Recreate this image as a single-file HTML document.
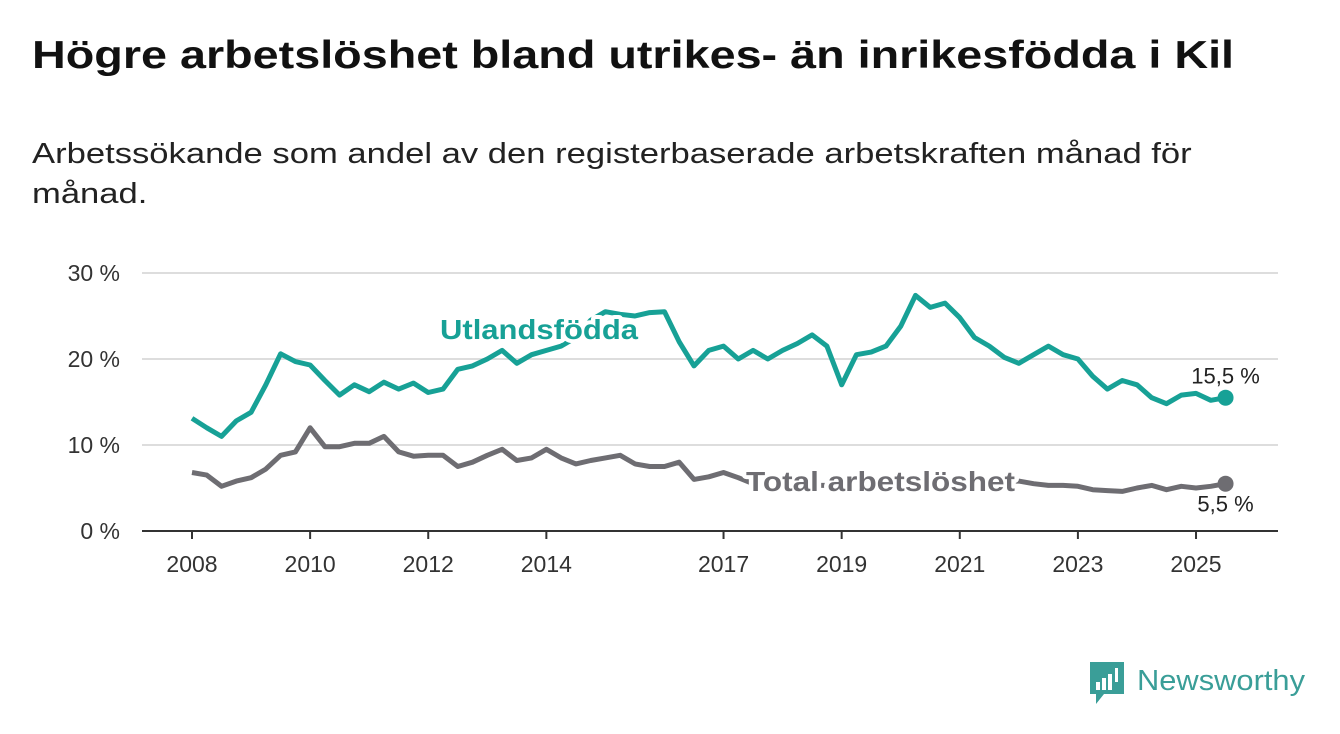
<!DOCTYPE html>
<html><head><meta charset="utf-8"><style>
body{margin:0;width:1340px;height:734px;background:#fff;font-family:"Liberation Sans",sans-serif;overflow:hidden}
#t{position:absolute;left:32px;top:34px;font-size:39px;font-weight:bold;color:#111;white-space:nowrap;transform-origin:0 0;transform:scaleX(1.198)}
#s{position:absolute;left:32px;top:134px;font-size:29px;color:#222;line-height:40px;white-space:nowrap;transform-origin:0 0;transform:scaleX(1.193)}
svg{position:absolute;left:0;top:0}
</style></head><body>
<div id="t">Högre arbetslöshet bland utrikes- än inrikesfödda i Kil</div>
<div id="s">Arbetssökande som andel av den registerbaserade arbetskraften månad för<br>månad.</div>
<svg id="c" width="1340" height="734"></svg>
<script>
const startYear=2008, step=0.25;
const foreign=[13.1,12.0,11.0,12.8, 13.8,17.0,20.6,19.7, 19.3,17.5,15.8,17.0, 16.2,17.3,16.5,17.2, 16.1,16.5,18.8,19.2, 20.0,21.0,19.5,20.5, 21.0,21.5,22.5,24.5, 25.5,25.2,25.0,25.4, 25.5,22.0,19.2,21.0, 21.5,20.0,21.0,20.0, 21.0,21.8,22.8,21.5, 17.0,20.5,20.8,21.5, 23.8,27.4,26.0,26.5, 24.8,22.5,21.5,20.2, 19.5,20.5,21.5,20.5, 20.0,18.0,16.5,17.5, 17.0,15.5,14.8,15.8, 16.0,15.2,15.5];
const total=[6.8,6.5,5.2,5.8, 6.2,7.2,8.8,9.2, 12.0,9.8,9.8,10.2, 10.2,11.0,9.2,8.7, 8.8,8.8,7.5,8.0, 8.8,9.5,8.2,8.5, 9.5,8.5,7.8,8.2, 8.5,8.8,7.8,7.5, 7.5,8.0,6.0,6.3, 6.8,6.2,5.5,5.5, 5.5,5.4,5.3,5.3, 5.4,5.5,5.5,5.6, 5.6,5.7,5.8,5.8, 5.8,5.9,5.9,5.8, 5.8,5.5,5.3,5.3, 5.2,4.8,4.7,4.6, 5.0,5.3,4.8,5.2, 5.0,5.2,5.5];
const yTicks=[0,10,20,30];
const yTickLabels=["0 %","10 %","20 %","30 %"];
const xTicks=[2008,2010,2012,2014,2017,2019,2021,2023,2025];
const NS="http://www.w3.org/2000/svg", svg=document.getElementById('c');
const X=y=>192+(y-2008)*59.06, Y=v=>531-v*8.6;
function mk(tag,a,txt){const e=document.createElementNS(NS,tag);for(const k in a)e.setAttribute(k,a[k]);if(txt!=null)e.textContent=txt;svg.appendChild(e);return e;}
yTicks.forEach((t,i)=>{
 const g=mk('line',{x1:142,x2:1278,y1:Y(t),y2:Y(t),stroke:t?'#ddd':'#333','stroke-width':2});
 
 
 const l=mk('text',{x:120,y:Y(t)+8,'text-anchor':'end','font-size':23,fill:'#333'},yTickLabels[i]);
 
 
});
xTicks.forEach(t=>{
 const m=mk('line',{x1:X(t),x2:X(t),y1:531,y2:539,stroke:'#333','stroke-width':2});
 
 
 const l=mk('text',{x:X(t),y:572,'text-anchor':'middle','font-size':23,fill:'#333'},String(t));
 
 
});
function line(arr,col,name){
 const d=arr.map((v,i)=>(i?'L':'M')+X(startYear+i*step).toFixed(1)+','+Y(v).toFixed(1)).join('');
 const p=mk('path',{d:d,fill:'none',stroke:col,'stroke-width':5,'stroke-linejoin':'round'});
 
 
 const n=arr.length-1;
 const c=mk('circle',{cx:X(startYear+n*step),cy:Y(arr[n]),r:8,fill:col});
 
 
 return [X(startYear+n*step),Y(arr[n])];
}
const ef=line(foreign,'#17a196','foreign-born');
const et=line(total,'#6e6d72','total');
const lab=(x,y,txt,col,name,len)=>{const e=mk('text',{x:x,y:y,'font-size':28,'font-weight':'bold',fill:col,stroke:'#fff','stroke-width':8,'paint-order':'stroke','stroke-linejoin':'round',textLength:len,lengthAdjust:'spacingAndGlyphs'},txt);
 
 };
lab(440,339,'Utlandsfödda','#17a196','foreign-born-label',198);
lab(746,491,'Total arbetslöshet','#6e6d72','total-label',269);
const v1=mk('text',{x:ef[0],y:ef[1]-14,'text-anchor':'middle','font-size':22,fill:'#222'},String(foreign[foreign.length-1]).replace('.',',')+' %');


const v2=mk('text',{x:et[0],y:et[1]+28,'text-anchor':'middle','font-size':22,fill:'#222'},String(total[total.length-1]).replace('.',',')+' %');


</script>
<svg width="1340" height="734">
<path d="M1090 662h34v32h-20l-8 10v-10h-6z" fill="#3a9e98"/>
<rect x="1096" y="682" width="4" height="8" fill="#fff"/><rect x="1102" y="678" width="4" height="12" fill="#fff"/><rect x="1108" y="674" width="4" height="16" fill="#fff"/><rect x="1115" y="668" width="3" height="14" fill="#fff"/>
<text x="1137" y="690" font-size="29" fill="#3a9e98" font-family="Liberation Sans" textLength="168" lengthAdjust="spacingAndGlyphs">Newsworthy</text>
</svg>
</body></html>
